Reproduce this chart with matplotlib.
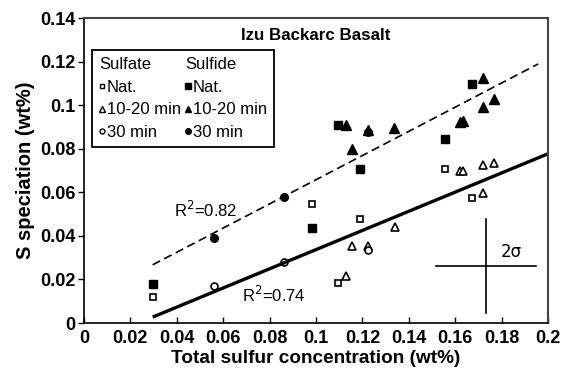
import numpy as np
import matplotlib.pyplot as plt
from matplotlib.lines import Line2D
from matplotlib.ticker import FuncFormatter

plt.rcParams['font.family'] = ['Liberation Sans', 'DejaVu Sans']

# sulfate (open symbols)
sulfate_nat_x = [0.0296, 0.0984, 0.119, 0.1096, 0.1556, 0.1674]
sulfate_nat_y = [0.0121, 0.0547, 0.0478, 0.0182, 0.0708, 0.0573]
sulfate_1020_x = [0.1154, 0.113, 0.134, 0.1223, 0.162, 0.1635, 0.1718, 0.1767, 0.172]
sulfate_1020_y = [0.0354, 0.0217, 0.0443, 0.0352, 0.070, 0.070, 0.0726, 0.0737, 0.0596]
sulfate_30_x = [0.056, 0.086, 0.1223]
sulfate_30_y = [0.017, 0.0282, 0.0335]

# sulfide (filled symbols)
sulfide_nat_x = [0.0296, 0.0984, 0.1096, 0.119, 0.1556, 0.1674]
sulfide_nat_y = [0.0178, 0.0438, 0.0907, 0.0707, 0.0845, 0.1097]
sulfide_1020_x = [0.1128, 0.1157, 0.1224, 0.1338, 0.1623, 0.1635, 0.1718, 0.172, 0.1769]
sulfide_1020_y = [0.0907, 0.080, 0.0885, 0.0895, 0.0925, 0.0929, 0.099, 0.1123, 0.1028]
sulfide_30_x = [0.056, 0.0862, 0.1224]
sulfide_30_y = [0.0392, 0.058, 0.0878]

# regression lines (slope, intercept) and x range
sulfide_fit = (0.555, 0.0103)
sulfate_fit = (0.44, -0.0103)
fit_x0, fit_x1 = 0.0296, 0.1958
sulfate_x1 = 0.2

# 2 sigma error cross
err_x, err_y = 0.1733, 0.0262
err_dx, err_dy = 0.0217, 0.0217

fig = plt.figure(figsize=(5.62, 3.70), dpi=100)
ax = fig.add_axes([0.1495, 0.127, 0.8255, 0.824])

ms = 5
ax.plot(sulfate_nat_x, sulfate_nat_y, ls='none', marker='s', ms=ms, mfc='white', mec='black', mew=1.2)
ax.plot(sulfate_1020_x, sulfate_1020_y, ls='none', marker='^', ms=ms + 0.5, mfc='white', mec='black', mew=1.2)
ax.plot(sulfate_30_x, sulfate_30_y, ls='none', marker='o', ms=ms, mfc='white', mec='black', mew=1.2)
ax.plot(sulfide_nat_x, sulfide_nat_y, ls='none', marker='s', ms=ms + 0.5, color='black')
ax.plot(sulfide_1020_x, sulfide_1020_y, ls='none', marker='^', ms=ms + 1.5, color='black')
ax.plot(sulfide_30_x, sulfide_30_y, ls='none', marker='o', ms=ms + 0.5, color='black')

xs = np.array([fit_x0, fit_x1])
ax.plot(xs, sulfide_fit[0] * xs + sulfide_fit[1], color='black', lw=1.2, dashes=(5, 2.8))
xs = np.array([fit_x0, sulfate_x1])
ax.plot(xs, sulfate_fit[0] * xs + sulfate_fit[1], color='black', lw=2.4, solid_capstyle='butt')

ax.plot([err_x, err_x], [err_y - err_dy, err_y + err_dy], color='black', lw=1.2)
ax.plot([err_x - err_dx, err_x + err_dx], [err_y, err_y], color='black', lw=1.2)
ax.text(err_x + 0.0062, 0.0328, '2σ', fontsize=12, va='center', ha='left',
        family=['DejaVu Sans'])

ax.text(0.039, 0.052, 'R$^2$=0.82', fontsize=12, va='center', ha='left')
ax.text(0.068, 0.013, 'R$^2$=0.74', fontsize=12, va='center', ha='left')
ax.text(0.1, 0.1322, 'Izu Backarc Basalt', fontsize=12.2, fontweight='bold', ha='center', va='center')

blank = Line2D([], [], ls='none')
def h(marker, filled, size):
    return Line2D([], [], ls='none', marker=marker, ms=size, mec='black', mew=1.0,
                  mfc='black' if filled else 'white')
handles = [blank, h('s', False, 3.5), h('^', False, 4), h('o', False, 3.5),
           blank, h('s', True, 4), h('^', True, 4.5), h('o', True, 4)]
labels = ['Sulfate', 'Nat.', '10-20 min', '30 min', 'Sulfide', 'Nat.', '10-20 min', '30 min']
leg = ax.legend(handles, labels, ncol=2, loc='upper left', bbox_to_anchor=(0.017, 0.896),
                borderaxespad=0, fontsize=12, handlelength=0.3, handletextpad=0.15,
                labelspacing=0.45, columnspacing=0.25, borderpad=0.45, fancybox=False,
                edgecolor='black', framealpha=1)
leg.get_frame().set_linewidth(1.3)

# pull the column headers left, over the marker slot
for col in leg._legend_handle_box.get_children():
    head = col.get_children()[0]
    head.get_children()[0].width = 0
    head.sep = 0

ax.set_xlim(0, 0.2)
ax.set_ylim(0, 0.14)
ax.set_xticks(np.arange(0, 0.201, 0.02))
ax.set_yticks(np.arange(0, 0.141, 0.02))
fmt = FuncFormatter(lambda v, p: '%g' % round(v, 3))
ax.xaxis.set_major_formatter(fmt)
ax.yaxis.set_major_formatter(fmt)
ax.tick_params(axis='x', direction='in', length=4, width=1, labelsize=13, pad=5)
ax.tick_params(axis='y', direction='out', length=4, width=1, labelsize=13, pad=2)
for t in ax.get_xticklabels() + ax.get_yticklabels():
    t.set_fontweight('bold')
for s in ['left', 'bottom']:
    ax.spines[s].set_linewidth(1.2)
for s in ['top', 'right']:
    ax.spines[s].set_linewidth(1.5)
    ax.spines[s].set_color('#444444')

ax.set_xlabel('Total sulfur concentration (wt%)', fontsize=13.7, fontweight='bold', labelpad=2)
ax.set_ylabel('S speciation (wt%)', fontsize=14.5, fontweight='bold', labelpad=4)

fig.savefig('out.png', dpi=100)
